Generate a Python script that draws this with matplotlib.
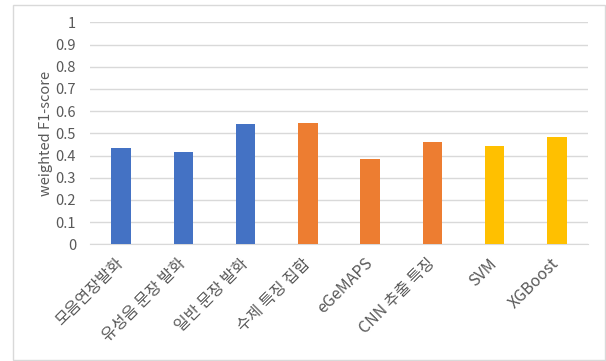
import matplotlib.pyplot as plt
from matplotlib.patches import Rectangle

plt.rcParams['font.family'] = ['Noto Sans CJK KR', 'DejaVu Sans']

# data
categories = ['모음연장발화', '유성음 문장 발화', '일반 문장 발화', '수제 특징 집합',
              'eGeMAPS', 'CNN 추출 특징', 'SVM', 'XGBoost']
scores = [0.435, 0.417, 0.540, 0.545, 0.384, 0.461, 0.443, 0.485]
colors = ['#4472C4', '#4472C4', '#4472C4', '#ED7D31',
          '#ED7D31', '#ED7D31', '#FFC000', '#FFC000']
yticks = [0, 0.1, 0.2, 0.3, 0.4, 0.5, 0.6, 0.7, 0.8, 0.9, 1]
ytick_labels = ['0', '0.1', '0.2', '0.3', '0.4', '0.5', '0.6', '0.7', '0.8', '0.9', '1']

fig = plt.figure(figsize=(6.06, 3.61), dpi=100)
ax = fig.add_axes([90/606, 1 - 244.3/361, 498/606, 222/361])

x = range(len(categories))
ax.bar(x, scores, width=0.31, color=colors, zorder=3)

ax.set_xlim(-0.5, len(categories) - 0.5)
ax.set_ylim(0, 1)
ax.set_yticks(yticks)
ax.set_yticklabels(ytick_labels, fontsize=10.5, color='#595959')
ax.set_xticks(list(x))
ax.set_xticklabels(categories, rotation=45, ha='right', va='center',
                   rotation_mode='anchor', fontsize=11.5, color='#595959')
ax.tick_params(length=0)
ax.tick_params(axis='y', pad=10)
ax.tick_params(axis='x', pad=12)
ax.grid(axis='y', color='#D9D9D9', linewidth=1, zorder=0)
for s in ['top', 'right', 'left']:
    ax.spines[s].set_visible(False)
ax.spines['bottom'].set_color('#D9D9D9')
ax.set_ylabel('weighted F1-score', fontsize=10.5, color='#595959', labelpad=2)

# chart border
fig.patches.append(Rectangle((12.5/606, 1/361), 592/606, 355/361, transform=fig.transFigure,
                             fill=False, edgecolor='#D9D9D9', linewidth=1))

plt.savefig('out.png', dpi=100)
